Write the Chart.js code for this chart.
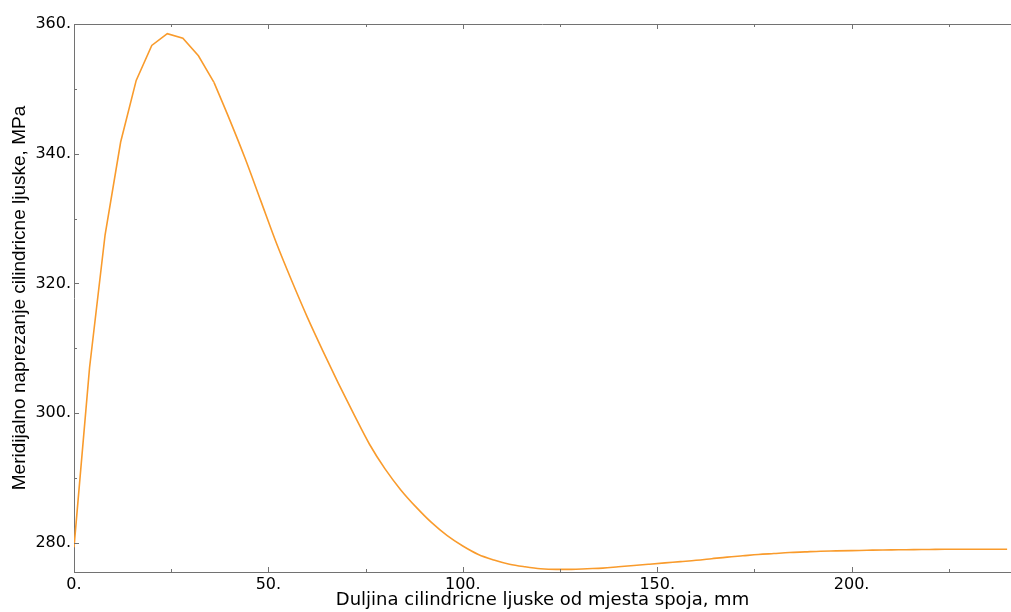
<!DOCTYPE html>
<html>
<head>
<meta charset="utf-8">
<script src="https://cdn.jsdelivr.net/npm/chart.js@4.4.1/dist/chart.umd.min.js"></script>
<style>
  html, body { margin: 0; padding: 0; background: #fff; }
  #wrap { width: 1011px; height: 612px; }
</style>
</head>
<body>
<div id="wrap"><canvas id="stressChart" width="1011" height="612"></canvas></div>
<script>
// peak region: sampled coarsely, drawn as straight segments
const peakLengthMm = [0, 4, 8, 12, 16, 20, 24, 28, 32, 36];
const peakStressMPa = [279.3, 307.0, 327.5, 341.8, 351.3, 356.7, 358.5, 357.8, 355.1, 351.0];
// decay region: smooth curve
const tailLengthMm = [
  36, 40, 44, 48, 52, 56, 60, 64, 68, 72, 76,
  80, 84, 88, 92, 96, 100, 104, 108, 112, 116, 120, 124, 128, 132, 136, 140,
  144, 148, 152, 156, 160, 164, 168, 172, 176, 180, 184, 188, 192, 196, 200,
  204, 208, 212, 216, 220, 224, 228, 232, 236, 240
];
const tailStressMPa = [
  351.0, 345.3, 339.3, 332.8, 326.3, 320.4, 314.8, 309.6, 304.6, 299.8, 295.2,
  291.4, 288.2, 285.5, 283.1, 281.1, 279.5, 278.2, 277.35, 276.7, 276.3,
  276.0, 275.9, 275.9, 276.0, 276.1, 276.3, 276.5, 276.7, 276.9, 277.1,
  277.3, 277.55, 277.8, 278.0, 278.2, 278.35, 278.5, 278.6, 278.7, 278.75,
  278.8, 278.85, 278.9, 278.92, 278.95, 278.97, 279.0, 279.0, 279.0, 279.0, 279.0
];
const xMajorTicks = [0, 50, 100, 150, 200];
const xMinorTicks = [25, 75, 125, 175, 225];
const yMajorTicks = [280, 300, 320, 340, 360];
const yMinorTicks = [290, 310, 330, 350];

const axisColor = "#727272";
const lineColor = "#f99b2c";

const frameTicks = {
  id: "frameTicks",
  afterDraw(chart) {
    const { ctx, chartArea, scales } = chart;
    const { x, y } = scales;
    ctx.save();
    ctx.strokeStyle = axisColor;
    ctx.lineWidth = 1;
    ctx.beginPath();
    // top frame line
    ctx.moveTo(chartArea.left, chartArea.top + 0.5);
    ctx.lineTo(chartArea.right, chartArea.top + 0.5);
    const xTick = (v, len) => {
      const px = Math.round(x.getPixelForValue(v)) + 0.5;
      ctx.moveTo(px, chartArea.bottom);
      ctx.lineTo(px, chartArea.bottom - len);
      ctx.moveTo(px, chartArea.top);
      ctx.lineTo(px, chartArea.top + len);
    };
    const yTick = (v, len) => {
      const py = Math.round(y.getPixelForValue(v)) + 0.5;
      ctx.moveTo(chartArea.left, py);
      ctx.lineTo(chartArea.left + len, py);
    };
    xMajorTicks.forEach((v) => xTick(v, 5));
    xMinorTicks.forEach((v) => xTick(v, 3));
    yMajorTicks.forEach((v) => yTick(v, 5));
    yMinorTicks.forEach((v) => yTick(v, 3));
    ctx.stroke();
    ctx.restore();
  }
};

const toPoints = (xs, ys) => xs.map((v, i) => ({ x: v, y: ys[i] }));

new Chart(document.getElementById("stressChart"), {
  type: "line",
  data: {
    datasets: [
      {
        data: toPoints(peakLengthMm, peakStressMPa),
        borderColor: lineColor,
        borderWidth: 1.6,
        pointRadius: 0,
        tension: 0,
        fill: false
      },
      {
        data: toPoints(tailLengthMm, tailStressMPa),
        borderColor: lineColor,
        borderWidth: 1.6,
        pointRadius: 0,
        cubicInterpolationMode: "monotone",
        fill: false
      }
    ]
  },
  options: {
    responsive: false,
    animation: false,
    layout: { padding: { top: 24, right: 0, left: 0, bottom: 0 } },
    plugins: { legend: { display: false }, tooltip: { enabled: false } },
    scales: {
      x: {
        type: "linear",
        min: 0,
        max: 241,
        afterFit: (scale) => { scale.height = 40; },
        afterBuildTicks: (scale) => { scale.ticks = xMajorTicks.map((value) => ({ value })); },
        grid: { display: false, drawTicks: false },
        border: { display: true, color: axisColor, width: 1 },
        ticks: {
          padding: 3,
          color: "#000",
          font: { family: "DejaVu Sans", size: 16 },
          maxRotation: 0,
          callback: (v) => v + "."
        },
        title: {
          display: true,
          text: "Duljina cilindricne ljuske od mjesta spoja, mm",
          color: "#000",
          font: { family: "DejaVu Sans", size: 18 },
          padding: { top: 0, bottom: 1 }
        }
      },
      y: {
        type: "linear",
        min: 275.5,
        max: 360,
        afterFit: (scale) => { scale.width = 74; },
        afterBuildTicks: (scale) => { scale.ticks = yMajorTicks.map((value) => ({ value })); },
        grid: { display: false, drawTicks: false },
        border: { display: true, color: axisColor, width: 1 },
        ticks: {
          padding: 3,
          color: "#000",
          font: { family: "DejaVu Sans", size: 16 },
          callback: (v) => v + "."
        },
        title: {
          display: true,
          text: "Meridijalno naprezanje cilindricne ljuske, MPa",
          color: "#000",
          font: { family: "Liberation Sans", size: 19 },
          padding: { top: 8, bottom: 0 }
        }
      }
    }
  },
  plugins: [frameTicks]
});
</script>
</body>
</html>
